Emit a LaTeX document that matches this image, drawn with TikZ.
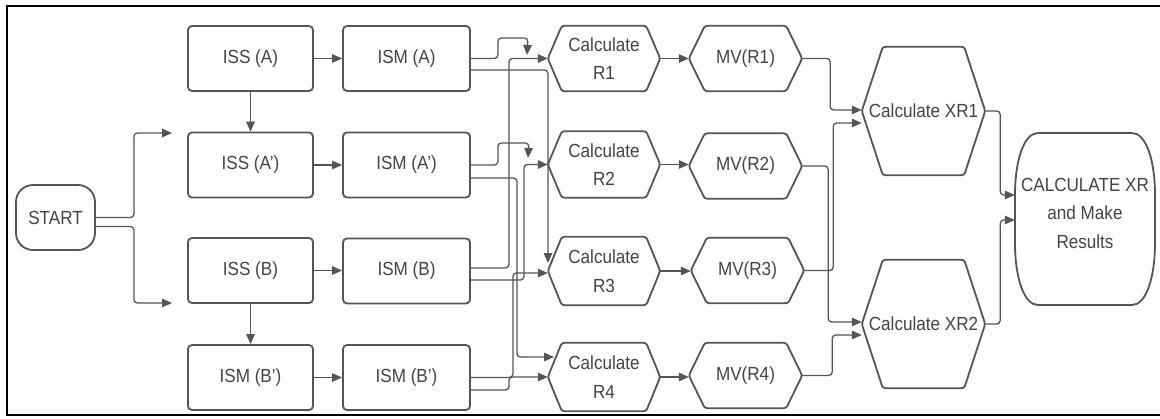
\documentclass[tikz,border=0pt]{standalone}
\usepackage{fontspec}
\setmainfont{Liberation Sans}[FakeStretch=0.9]
\usetikzlibrary{arrows.meta,calc}
\definecolor{ln}{RGB}{85,85,85}
\definecolor{tx}{RGB}{68,68,68}
\newcommand\myfs{\fontsize{19}{28.5}\selectfont}
\begin{document}
\begin{tikzpicture}[x=1pt,y=-1pt,
  box/.style={draw=ln, line width=1.8pt},
  rbox/.style={box, rounded corners=4pt, minimum width=125pt, minimum height=65pt, inner sep=0pt, text=tx, font=\myfs},
  hexnode/.style={inner sep=0pt, text=tx, font=\myfs, align=center},
  conn/.style={draw=ln, line width=1.3pt, rounded corners=3.5pt},
  arr/.style={conn, -{Triangle[length=10pt,width=8.5pt]}},
]
\useasboundingbox (0,0) rectangle (1160,418);
\fill[white] (0,0) rectangle (1160,418);
\draw[black, line width=2.5pt] (1165,6) -- (7,6) -- (7,415) -- (1165,415);

% nodes
\node[rbox, minimum width=79pt, rounded corners=17pt] (start) at (55.5,217.5) {START};

\node[rbox] (issA)  at (250.5,58.5) {ISS (A)};
\node[rbox] (issAp) at (250.5,165)  {ISS (A’)};
\node[rbox] (issB)  at (250.5,270.5) {ISS (B)};
\node[rbox] (issBp) at (250.5,377.5) {ISM (B’)};

\node[rbox, minimum width=127pt] (ismA)  at (406.5,58.5) {ISM (A)};
\node[rbox, minimum width=127pt] (ismAp) at (406.5,165)  {ISM (A’)};
\node[rbox, minimum width=127pt] (ismB)  at (406.5,271)  {ISM (B)};
\node[rbox, minimum width=127pt] (ismBp) at (406.5,377.5) {ISM (B’)};

\node[hexnode, minimum width=112pt, minimum height=65pt] (r1) at (604,58.5) {Calculate\\R1};
\node[hexnode, minimum width=112pt, minimum height=66pt] (r2) at (604,164.5) {Calculate\\R2};
\node[hexnode, minimum width=112pt, minimum height=68pt] (r3) at (604,271) {Calculate\\R3};
\node[hexnode, minimum width=112pt, minimum height=68pt] (r4) at (604,377) {Calculate\\R4};

\node[hexnode, minimum width=113pt, minimum height=65pt] (m1) at (745.5,58.5) {MV(R1)};
\node[hexnode, minimum width=113pt, minimum height=65pt] (m2) at (745.5,166) {MV(R2)};
\node[hexnode, minimum width=113pt, minimum height=65pt] (m3) at (747.5,270.5) {MV(R3)};
\node[hexnode, minimum width=113pt, minimum height=65pt] (m4) at (745.5,375.5) {MV(R4)};

\node[hexnode, minimum width=123pt, minimum height=128pt] (x1) at (923.5,111) {Calculate XR1};
\node[hexnode, minimum width=123pt, minimum height=128pt] (x2) at (923.5,324) {Calculate XR2};

\node[hexnode, minimum width=140pt, minimum height=172pt] (res) at (1085,213) {CALCULATE XR\\and Make\\Results};

% hexagon outlines
\foreach \n/\d in {r1/14,r2/14,r3/14,r4/14,m1/16,m2/16,m3/16,m4/16,x1/21,x2/21}
  \draw[box, rounded corners=2.5pt] (\n.west) -- ([xshift=\d pt]\n.north west) -- ([xshift=-\d pt]\n.north east) -- (\n.east) -- ([xshift=-\d pt]\n.south east) -- ([xshift=\d pt]\n.south west) -- cycle;

% result outline
\draw[box] (1038,133) -- (1132,133) .. controls (1146,133) and (1155,160) .. (1155,195) -- (1155,243) .. controls (1155,278) and (1146,305) .. (1132,305) -- (1038,305) .. controls (1024,305) and (1015,278) .. (1015,243) -- (1015,195) .. controls (1015,160) and (1024,133) .. (1038,133) -- cycle;

% free ends
\coordinate (sa) at (172,133);
\coordinate (sb) at (172,303);
\coordinate (tA) at (527,55);
\coordinate (tAp) at (528,158);
\coordinate (r3top) at (548,263);
\coordinate (r4top) at (554,357);

% start
\draw[arr] (start.east) -- ++(38,0) |- (sa);
\draw[arr] ([yshift=-9pt]start.east) -- ++(38,0) |- (sb);

% ISS
\draw[arr] (issA.south) -- (issAp.north);
\draw[arr] (issB.south) -- (issBp.north);
\draw[arr] (issA.east) -- (ismA.west);
\draw[arr] (issAp.east) -- (ismAp.west);
\draw[arr] (issB.east) -- (ismB.west|-issB.east);
\draw[arr] (issBp.east) -- (ismBp.west);

% ISM -> R
\draw[arr] (ismA.east) -- ++(27,0) -- ++(0,-20.5) -- ++(30,0) -- (tA);
\draw[arr] ([yshift=-11.5pt]ismA.east) -| (r3top);
\draw[arr] (ismAp.east) -- ++(27,0) -- ++(0,-22) -- ++(31,0) -- (tAp);
\draw[arr] ([yshift=-13pt]ismAp.east) -- ++(46,0) |- (r4top);
\draw[arr] ([yshift=3pt]ismB.east) -- ++(38,0) |- (r1.west);
\draw[arr] ([yshift=-9pt]ismB.east) -- ++(53,0) |- (r2.west);
\draw[arr] (ismBp.east) -- ++(42,0) |- ([yshift=-2pt]r3.west);
\draw[arr] ([yshift=-12.5pt]ismBp.east) -- ++(38,0) |- (r4.west);

% R -> MV
\draw[arr] (r1.east) -- (m1.west);
\draw[arr] (r2.east) -- (m2.west|-r2.east);
\draw[arr] (r3.east) -- (m3.west|-r3.east);
\draw[arr] (r4.east) -- (m4.west|-r4.east);

% MV -> XR
\draw[arr] (m1.east) -- ++(28,0) |- ([yshift=1pt]x1.west);
\draw[arr] (m3.east) -- ++(29,0) |- ([yshift=-12pt]x1.west);
\draw[arr] (m2.east) -- ++(26,0) |- ([yshift=2pt]x2.west);
\draw[arr] (m4.east) -- ++(30,0) |- ([yshift=-11pt]x2.west);

% XR -> result
\draw[arr] (x1.east) -- ++(15,0) |- ([yshift=18pt]res.west);
\draw[arr] (x2.east) -- ++(15,0) |- ([yshift=-7pt]res.west);
\end{tikzpicture}
\end{document}
